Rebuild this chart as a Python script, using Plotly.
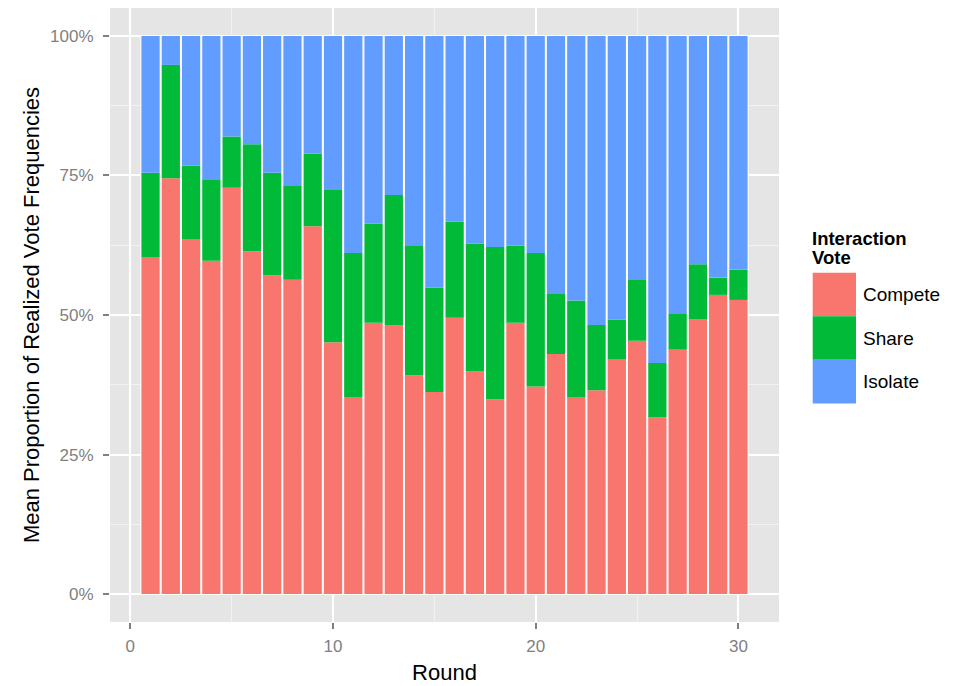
import plotly.graph_objects as go
import numpy as np

# ---- data (percent of votes per round) ----
rounds = list(range(1, 31))
compete = [60.4, 74.5, 63.6, 59.7, 72.8, 61.4, 57.1, 56.3, 65.9, 45.1,
           35.3, 48.6, 48.1, 39.2, 36.2, 49.5, 39.9, 34.9, 48.6, 37.2,
           43.0, 35.3, 36.5, 42.0, 45.4, 31.7, 43.8, 49.2, 53.6, 52.7]
share = [15.1, 20.3, 13.2, 14.5, 9.2, 19.2, 18.4, 16.8, 13.0, 27.3,
         25.8, 17.8, 23.4, 23.3, 18.7, 17.2, 22.9, 27.3, 13.8, 23.9,
         10.9, 17.3, 11.7, 7.2, 11.0, 9.7, 6.4, 9.9, 3.1, 5.4]
isolate = [24.5, 5.2, 23.2, 25.8, 18.0, 19.4, 24.5, 26.9, 21.1, 27.6,
           38.9, 33.6, 28.5, 37.5, 45.1, 33.3, 37.2, 37.8, 37.6, 38.9,
           46.1, 47.4, 51.8, 50.8, 43.6, 58.6, 49.8, 40.9, 43.3, 41.9]
series_names = ["Compete", "Share", "Isolate"]
series_colors = ["#F8766D", "#00BA38", "#619CFF"]
y_ticks = [0, 25, 50, 75, 100]
y_tick_labels = ["0%", "25%", "50%", "75%", "100%"]
x_ticks = [0, 10, 20, 30]

c = np.array(compete)
s = np.array(share)
i_ = np.array(isolate)
totals = c + s + i_

fig = go.Figure()
# white backing bars (the bar outlines of the original)
fig.add_bar(x=rounds, y=totals, base=0, width=1.0,
            marker=dict(color="white", line=dict(width=0)),
            showlegend=False, hoverinfo="skip")
bases = [np.zeros_like(c), c, c + s]
vals = [c, s, i_]
for name, col, v, b in zip(series_names, series_colors, vals, bases):
    fig.add_bar(name=name, x=rounds, y=v, base=b, width=0.9,
                marker=dict(color=col, line=dict(width=0)),
                showlegend=False)

# page body has an 8px margin: compensate
OFF = 8
W, H = 953 - OFF, 686 - OFF
L, R, T, B = 110 - OFF, 779 - OFF, 8 - OFF, 621.7 - OFF


def pxx(p):
    return (p - OFF - L) / (R - L)


def pxy(p):
    return (B - (p - OFF)) / (B - T)


grey_txt = "#7F7F7F"
fig.update_layout(
    width=W, height=H,
    margin=dict(l=L, r=W - R, t=T, b=H - B, pad=0),
    barmode="overlay",
    plot_bgcolor="#E5E5E5",
    paper_bgcolor="white",
    font=dict(family="Liberation Sans, Arial, sans-serif", color="black"),
    xaxis=dict(
        range=[-1, 32], tickvals=x_ticks, showgrid=True, gridcolor="white",
        gridwidth=2, zeroline=False, ticks="outside", ticklen=6,
        tickcolor=grey_txt, tickwidth=1.5, ticklabelstandoff=3,
        tickfont=dict(size=17, color=grey_txt),
        minor=dict(dtick=5, tick0=0, showgrid=True, gridcolor="#F2F2F2",
                   gridwidth=1, ticks=""),
        title=dict(text="Round", font=dict(size=22, color="black"), standoff=9),
    ),
    yaxis=dict(
        range=[-5, 105], tickvals=y_ticks, ticktext=y_tick_labels,
        showgrid=True, gridcolor="white", gridwidth=2, zeroline=False,
        ticks="outside", ticklen=6, tickcolor=grey_txt, tickwidth=1.5,
        ticklabelstandoff=6,
        tickfont=dict(size=17, color=grey_txt),
        minor=dict(dtick=12.5, tick0=0, showgrid=True, gridcolor="#F2F2F2",
                   gridwidth=1, ticks=""),
        title=dict(text="Mean Proportion of Realized Vote Frequencies",
                   font=dict(size=22, color="black"), standoff=4),
    ),
)

# custom legend (ggplot-style large keys)
key_x0, key_x1 = 812.7, 856
key_top = 272.7
key_h = 43.5
shapes = []
annots = []
for k, (name, col) in enumerate(zip(series_names, series_colors)):
    y1 = key_top + k * key_h
    y0 = y1 + key_h
    shapes.append(dict(type="rect", xref="paper", yref="paper",
                       x0=pxx(key_x0), x1=pxx(key_x1), y0=pxy(y0), y1=pxy(y1),
                       fillcolor=col, line=dict(width=0), layer="above"))
    annots.append(dict(text=name, xref="paper", yref="paper",
                       x=pxx(861), y=pxy(y1 + key_h / 2), xanchor="left",
                       yanchor="middle", showarrow=False,
                       font=dict(size=19, color="black")))
annots.append(dict(text="<b>Interaction</b>", xref="paper", yref="paper",
                   x=pxx(810), y=pxy(238.5), xanchor="left", yanchor="middle",
                   showarrow=False, font=dict(size=18.5, color="black")))
annots.append(dict(text="<b>Vote</b>", xref="paper", yref="paper",
                   x=pxx(810), y=pxy(257), xanchor="left", yanchor="middle",
                   showarrow=False, font=dict(size=18.5, color="black")))
fig.update_layout(shapes=shapes, annotations=annots)

fig.write_html("out.html")
